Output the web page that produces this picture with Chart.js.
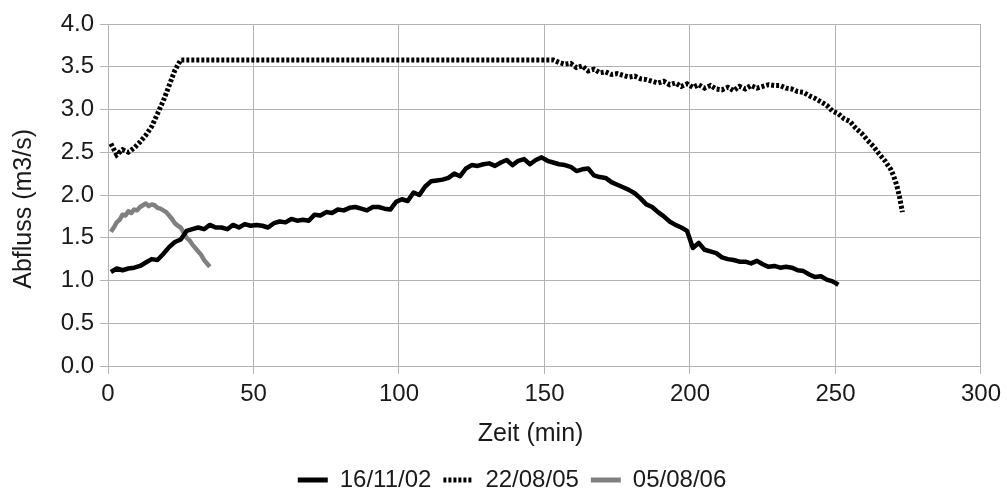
<!DOCTYPE html>
<html>
<head>
<meta charset="utf-8">
<script src="https://cdn.jsdelivr.net/npm/chart.js@4.4.1/dist/chart.umd.min.js"></script>
<style>
  html, body { margin: 0; padding: 0; background: #fff; }
  #wrap { width: 1007px; height: 493px; position: relative; }
</style>
</head>
<body>
<div id="wrap"><canvas id="abflussChart"></canvas></div>
<script>
// Abfluss-Ganglinien dreier Ereignisse (Zeit in min, Abfluss in m3/s)

// ---------------------
// DATA
// ---------------------
const eventLabels = ["16/11/02", "22/08/05", "05/08/06"];

// 16/11/02
const timeNov02 = [
  1, 3, 5, 7, 9, 11, 13, 15, 17, 19,
  21, 23, 25, 27, 29, 31, 33, 35, 37, 39,
  41, 43, 45, 47, 49, 51, 53, 55, 57, 59,
  61, 63, 65, 67, 69, 71, 73, 75, 77, 79,
  81, 83, 85, 87, 89, 91, 93, 95, 97, 99,
  101, 103, 105, 107, 109, 111, 113, 115, 117, 119,
  121, 123, 125, 127, 129, 131, 133, 135, 137, 139,
  141, 143, 145, 147, 149, 151, 153, 155, 157, 159,
  161, 163, 165, 167, 169, 171, 173, 175, 177, 179,
  181, 183, 185, 187, 189, 191, 193, 195, 197, 199,
  201, 203, 205, 207, 209, 211, 213, 215, 217, 219,
  221, 223, 225, 227, 229, 231, 233, 235, 237, 239,
  241, 243, 245, 247, 249, 251
];
const flowNov02 = [
  1.10, 1.14, 1.12, 1.14, 1.15, 1.17, 1.21, 1.25, 1.24, 1.31,
  1.39, 1.45, 1.48, 1.58, 1.60, 1.62, 1.60, 1.65, 1.62, 1.62,
  1.60, 1.65, 1.62, 1.66, 1.64, 1.65, 1.64, 1.62, 1.67, 1.69,
  1.68, 1.72, 1.70, 1.71, 1.70, 1.77, 1.76, 1.80, 1.79, 1.83,
  1.82, 1.85, 1.86, 1.84, 1.82, 1.86, 1.86, 1.84, 1.83, 1.92,
  1.95, 1.93, 2.03, 2.00, 2.10, 2.16, 2.17, 2.18, 2.20, 2.25,
  2.22, 2.31, 2.35, 2.34, 2.36, 2.37, 2.34, 2.38, 2.41, 2.35,
  2.40, 2.42, 2.36, 2.41, 2.44, 2.40, 2.38, 2.36, 2.35, 2.33,
  2.28, 2.30, 2.31, 2.23, 2.21, 2.20, 2.15, 2.12, 2.09, 2.06,
  2.02, 1.96, 1.89, 1.86, 1.80, 1.75, 1.69, 1.65, 1.62, 1.58,
  1.38, 1.44, 1.36, 1.34, 1.32, 1.27, 1.25, 1.24, 1.22, 1.22,
  1.20, 1.23, 1.19, 1.16, 1.17, 1.15, 1.16, 1.15, 1.12, 1.11,
  1.07, 1.04, 1.05, 1.01, 0.99, 0.95
];

// 22/08/05 (Messbereich bei 3.58 m3/s gekappt)
const timeAug05 = [
  1, 3, 5, 7, 9, 11, 13, 15, 17, 19, 21, 23, 25,
  151, 153, 155, 157, 159, 161, 163, 165, 167, 169,
  171, 173, 175, 177, 179, 181, 183, 185, 187, 189,
  191, 193, 195, 197, 199, 201, 203, 205, 207, 209,
  211, 213, 215, 217, 219, 221, 223, 225, 227, 229,
  231, 233, 235, 237, 239, 241, 243, 245, 247, 249,
  251, 253, 255, 257, 259, 261, 263, 265, 267, 269,
  270, 271, 272, 273
];
const flowAug05 = [
  2.60, 2.47, 2.53, 2.50, 2.55, 2.62, 2.70, 2.80, 2.95, 3.10, 3.28, 3.46, 3.58,
  3.58, 3.58, 3.55, 3.53, 3.54, 3.49, 3.51, 3.45, 3.47, 3.43,
  3.44, 3.41, 3.42, 3.40, 3.38, 3.39, 3.36, 3.35, 3.33, 3.31,
  3.33, 3.29, 3.31, 3.27, 3.30, 3.26, 3.29, 3.25, 3.28, 3.24,
  3.23, 3.26, 3.22, 3.27, 3.24, 3.28, 3.25, 3.27, 3.29, 3.28,
  3.28, 3.25, 3.24, 3.21, 3.20, 3.16, 3.13, 3.09, 3.05, 2.98,
  2.95, 2.89, 2.86, 2.78, 2.72, 2.64, 2.57, 2.48, 2.40, 2.30,
  2.22, 2.12, 1.98, 1.80
];

// 05/08/06
const timeAug06 = [
  1, 2, 3, 4, 5, 6, 7, 8, 9, 10,
  11, 12, 13, 14, 15, 16, 17, 18, 19, 20,
  21, 22, 23, 24, 25, 26, 27, 28, 29, 30,
  31, 32, 33, 34, 35
];
const flowAug06 = [
  1.57, 1.62, 1.68, 1.71, 1.77, 1.76, 1.81, 1.79, 1.83, 1.82,
  1.86, 1.88, 1.90, 1.87, 1.89, 1.88, 1.85, 1.84, 1.82, 1.80,
  1.76, 1.72, 1.67, 1.64, 1.62, 1.56, 1.50, 1.47, 1.42, 1.38,
  1.34, 1.30, 1.24, 1.20, 1.16
];

const xTicks = [0, 50, 100, 150, 200, 250, 300];
const yTicks = [0, 0.5, 1, 1.5, 2, 2.5, 3, 3.5, 4];

// ---------------------
// STYLE
// ---------------------
const FONT = "'Liberation Sans', Arial, sans-serif";
const TEXT_COLOR = "#1a1a1a";
const GRID_COLOR = "#b3b3b3";

function toPoints(times, values) {
  return times.map((t, i) => ({ x: t, y: values[i] }));
}

// legend samples: short line in the dataset's colour and dash
function legendLabels(chart) {
  const items = Chart.defaults.plugins.legend.labels.generateLabels(chart);
  items.forEach((item) => {
    const ds = chart.data.datasets[item.datasetIndex];
    item.strokeStyle = ds.borderColor;
    item.lineWidth = 5;
    item.lineDash = ds.borderDash || [];
    item.lineCap = "butt";
  });
  return items;
}

// ---------------------
// CHART
// ---------------------
new Chart(document.getElementById("abflussChart"), {
  type: "line",
  data: {
    datasets: [
      {
        label: eventLabels[0],
        data: toPoints(timeNov02, flowNov02),
        borderColor: "#000000",
        backgroundColor: "#000000",
        borderWidth: 4.5,
        borderJoinStyle: "round",
        pointRadius: 0,
        tension: 0,
      },
      {
        label: eventLabels[1],
        data: toPoints(timeAug05, flowAug05),
        borderColor: "#000000",
        backgroundColor: "#000000",
        borderWidth: 5,
        borderDash: [3, 2],
        pointRadius: 0,
        tension: 0,
      },
      {
        label: eventLabels[2],
        data: toPoints(timeAug06, flowAug06),
        borderColor: "#808080",
        backgroundColor: "#808080",
        borderWidth: 4.5,
        borderJoinStyle: "round",
        pointRadius: 0,
        tension: 0,
      },
    ],
  },
  options: {
    responsive: true,
    maintainAspectRatio: false,
    animation: false,
    devicePixelRatio: 1,
    layout: { padding: { top: 24, right: 24, bottom: -9, left: 41 } },
    plugins: {
      tooltip: { enabled: false },
      legend: {
        position: "bottom",
        labels: {
          usePointStyle: true,
          pointStyle: "line",
          pointStyleWidth: 30,
          padding: 12,
          color: TEXT_COLOR,
          font: { family: FONT, size: 24 },
          generateLabels: legendLabels,
        },
      },
    },
    scales: {
      x: {
        type: "linear",
        min: 0,
        max: 300,
        afterBuildTicks: (s) => { s.ticks = xTicks.map((v) => ({ value: v })); },
        afterFit: (s) => { s.height = 90; },
        ticks: {
          padding: 6,
          maxRotation: 0,
          autoSkip: false,
          color: TEXT_COLOR,
          font: { family: FONT, size: 24 },
        },
        grid: { color: GRID_COLOR, lineWidth: 1, tickLength: 8 },
        border: { color: GRID_COLOR, width: 1 },
        title: {
          display: true,
          text: "Zeit (min)    ",
          color: TEXT_COLOR,
          font: { family: FONT, size: 25 },
          padding: { top: 0, bottom: 7 },
        },
      },
      y: {
        type: "linear",
        min: 0,
        max: 4,
        afterBuildTicks: (s) => { s.ticks = yTicks.map((v) => ({ value: v })); },
        afterFit: (s) => { s.width = 67; },
        ticks: {
          padding: 6,
          autoSkip: false,
          color: TEXT_COLOR,
          font: { family: FONT, size: 24 },
          callback: (v) => Number(v).toFixed(1),
        },
        grid: { color: GRID_COLOR, lineWidth: 1, tickLength: 8 },
        border: { color: GRID_COLOR, width: 1 },
        title: {
          display: true,
          text: "Abfluss (m3/s)    ",
          color: TEXT_COLOR,
          font: { family: FONT, size: 25 },
          padding: { top: -32, bottom: 0 },
        },
      },
    },
  },
});
</script>
</body>
</html>
